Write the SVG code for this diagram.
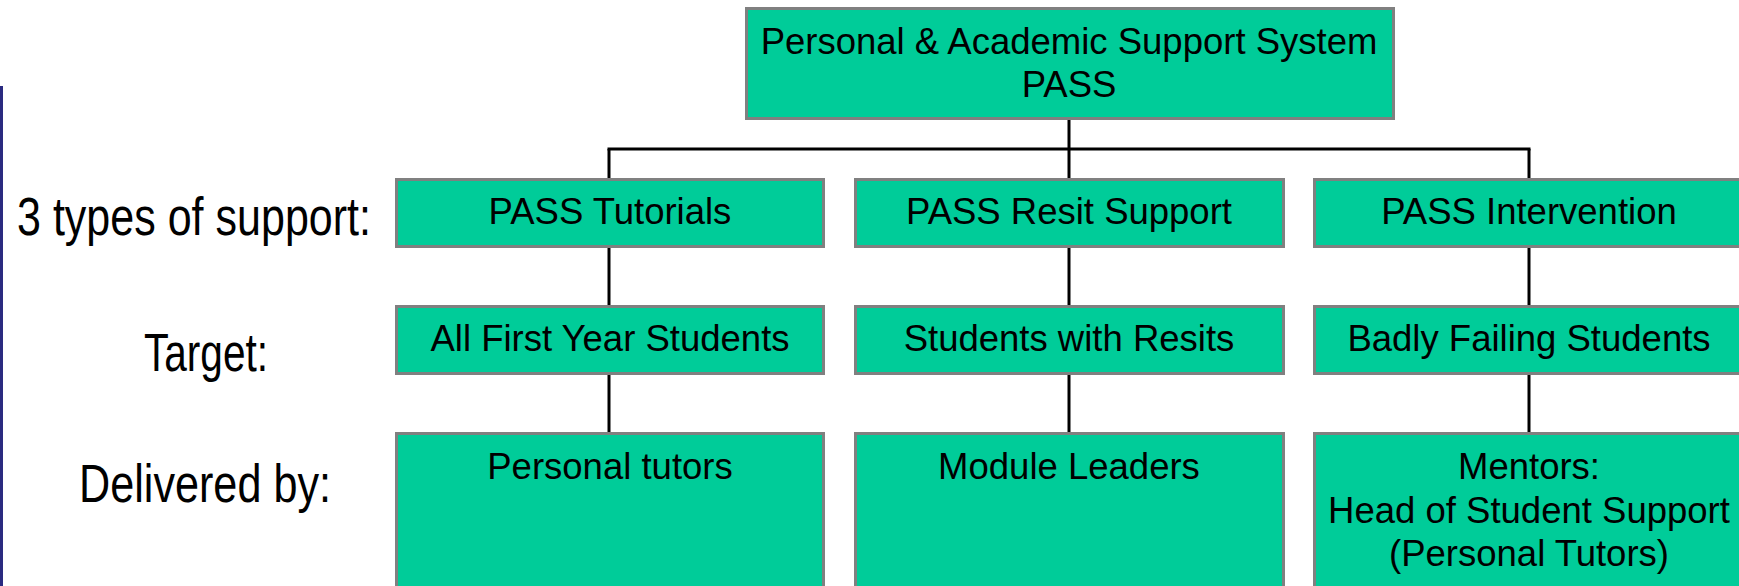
<svg xmlns="http://www.w3.org/2000/svg" width="1739" height="586" viewBox="0 0 1739 586">
<style>
.box{fill:#00CC99;stroke:#808080;stroke-width:3}
.t{font-family:"Liberation Sans",Arial,sans-serif;font-size:36.5px;fill:#000;text-anchor:middle}
.lbl{font-family:"Liberation Sans",Arial,sans-serif;font-size:53px;fill:#000}
.conn{stroke:#000;stroke-width:3;fill:none}
</style>
<rect x="0" y="86" width="3" height="500" fill="#2a2a80"/>
<g id="connectors">
<line class="conn" x1="1069" y1="119" x2="1069" y2="149"/>
<line class="conn" x1="607.5" y1="149" x2="1530.5" y2="149"/>
<line class="conn" x1="609" y1="149" x2="609" y2="179"/>
<line class="conn" x1="1069" y1="149" x2="1069" y2="179"/>
<line class="conn" x1="1529" y1="149" x2="1529" y2="179"/>
<line class="conn" x1="609" y1="247" x2="609" y2="306"/>
<line class="conn" x1="1069" y1="247" x2="1069" y2="306"/>
<line class="conn" x1="1529" y1="247" x2="1529" y2="306"/>
<line class="conn" x1="609" y1="374" x2="609" y2="433"/>
<line class="conn" x1="1069" y1="374" x2="1069" y2="433"/>
<line class="conn" x1="1529" y1="374" x2="1529" y2="433"/>
</g>
<g id="labels">
<text class="lbl" x="17" y="235" textLength="354" lengthAdjust="spacingAndGlyphs">3 types of support:</text>
<text class="lbl" x="144" y="371" textLength="124" lengthAdjust="spacingAndGlyphs">Target:</text>
<text class="lbl" x="79" y="502" textLength="252" lengthAdjust="spacingAndGlyphs">Delivered by:</text>
</g>
<g id="pass">
<rect class="box" x="746.5" y="8.5" width="647" height="110"/>
<text class="t" x="1069" y="54">Personal &amp; Academic Support System</text>
<text class="t" x="1069" y="97">PASS</text>
</g>
<g id="tutorials">
<rect class="box" x="396.5" y="179.5" width="427" height="67"/>
<text class="t" x="610" y="224">PASS Tutorials</text>
</g>
<g id="resit">
<rect class="box" x="855.5" y="179.5" width="428" height="67"/>
<text class="t" x="1069" y="224">PASS Resit Support</text>
</g>
<g id="intervention">
<rect class="box" x="1314.5" y="179.5" width="429" height="67"/>
<text class="t" x="1529" y="224">PASS Intervention</text>
</g>
<g id="first-year">
<rect class="box" x="396.5" y="306.5" width="427" height="67"/>
<text class="t" x="610" y="351">All First Year Students</text>
</g>
<g id="resit-students">
<rect class="box" x="855.5" y="306.5" width="428" height="67"/>
<text class="t" x="1069" y="351">Students with Resits</text>
</g>
<g id="failing">
<rect class="box" x="1314.5" y="306.5" width="429" height="67"/>
<text class="t" x="1529" y="351">Badly Failing Students</text>
</g>
<g id="personal-tutors">
<rect class="box" x="396.5" y="433.5" width="427" height="200"/>
<text class="t" x="610" y="479">Personal tutors</text>
</g>
<g id="module-leaders">
<rect class="box" x="855.5" y="433.5" width="428" height="200"/>
<text class="t" x="1069" y="479">Module Leaders</text>
</g>
<g id="mentors">
<rect class="box" x="1314.5" y="433.5" width="429" height="200"/>
<text class="t" x="1529" y="479">Mentors:</text>
<text class="t" x="1529" y="523">Head of Student Support</text>
<text class="t" x="1529" y="566">(Personal Tutors)</text>
</g>
</svg>
